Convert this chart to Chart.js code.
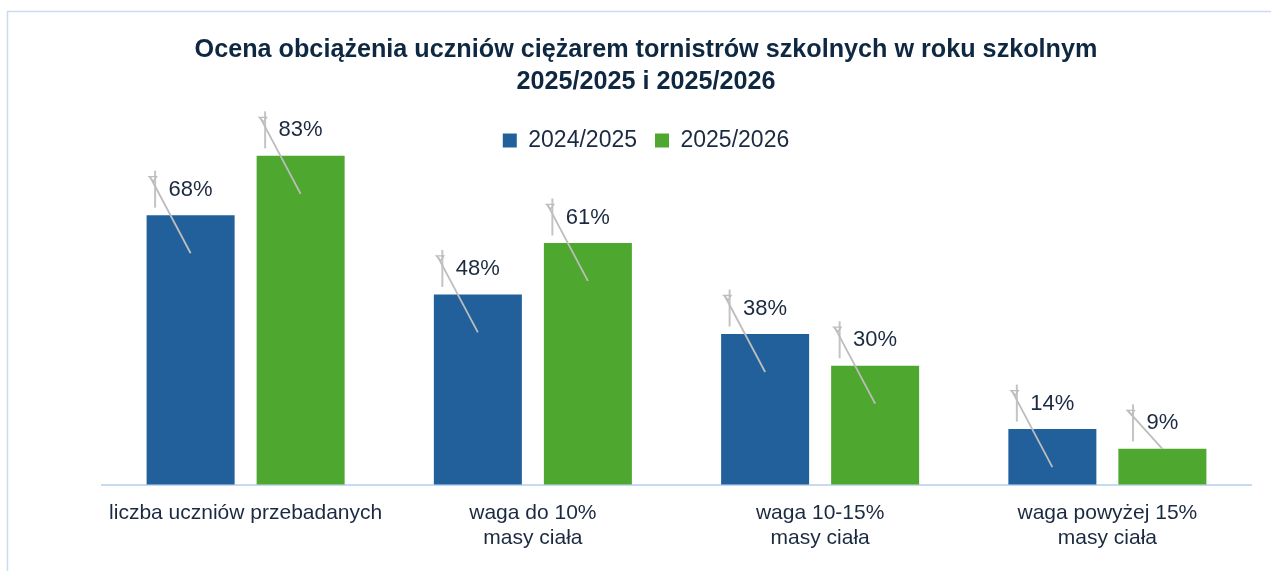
<!DOCTYPE html>
<html>
<head>
<meta charset="utf-8">
<script src="https://cdn.jsdelivr.net/npm/chart.js@4.4.1/dist/chart.umd.min.js"></script>
<style>
  html, body { margin: 0; padding: 0; background: #ffffff; }
  #wrap { width: 1271px; height: 571px; position: relative; }
</style>
</head>
<body>
<div id="wrap"><canvas id="c" width="1271" height="571"></canvas></div>
<script>
// ---- data ----
const titleLines = ['Ocena obciążenia uczniów ciężarem tornistrów szkolnych w roku szkolnym', '2025/2025 i 2025/2026'];
const categories = [
  'liczba uczniów przebadanych',
  ['waga do 10%', 'masy ciała'],
  ['waga 10-15%', 'masy ciała'],
  ['waga powyżej 15%', 'masy ciała']
];
const seriesNames = ['2024/2025', '2025/2026'];
const values2425 = [68, 48, 38, 14];
const values2526 = [83, 61, 30, 9];

// ---- styling ----
const BLUE = '#21609b';
const GREEN = '#4ea72e';
const TEXT = '#1b2a40';
const TITLE = '#0e2841';
const PX_PER_UNIT = 3.96;
const SANS = '"Liberation Sans", Arial, sans-serif';

const framePlugin = {
  id: 'frame',
  beforeDraw(chart) {
    const ctx = chart.ctx;
    ctx.save();
    ctx.fillStyle = '#ffffff';
    ctx.fillRect(0, 0, chart.width, chart.height);
    ctx.strokeStyle = '#c9dcf2';
    ctx.lineWidth = 1.5;
    ctx.beginPath();
    ctx.moveTo(7.5, chart.height + 5);
    ctx.lineTo(7.5, 11.5);
    ctx.lineTo(chart.width + 5, 11.5);
    ctx.stroke();
    ctx.restore();
  }
};

const labelPlugin = {
  id: 'barLabels',
  afterDatasetsDraw(chart) {
    const ctx = chart.ctx;
    ctx.save();
    ctx.font = '22px ' + SANS;
    chart.data.datasets.forEach((ds, di) => {
      const meta = chart.getDatasetMeta(di);
      meta.data.forEach((bar, i) => {
        const txt = ds.data[i] + '%';
        const w = ctx.measureText(txt).width;
        const cx = bar.x;
        const cy = bar.y - 25.5;
        const left = cx - w / 2;
        const h = bar.base - bar.y;
        // leader-line remnants (grey)
        ctx.strokeStyle = '#c4c4c4';
        ctx.lineWidth = 2;
        ctx.beginPath();
        ctx.moveTo(left - 13.5, cy - 19);
        ctx.lineTo(left - 13.5, cy + 18);
        ctx.stroke();
        ctx.strokeStyle = '#bdbdbd';
        ctx.lineWidth = 1.8;
        ctx.beginPath();
        ctx.moveTo(left - 18, cy - 12);
        ctx.lineTo(cx, h > 45 ? bar.y + 38 : bar.y);
        ctx.stroke();
        ctx.lineWidth = 1.3;
        ctx.beginPath();
        ctx.moveTo(left - 19.5, cy - 13);
        ctx.lineTo(left - 12, cy - 13);
        ctx.lineTo(left - 15, cy - 8.5);
        ctx.closePath();
        ctx.stroke();
        // value text
        ctx.fillStyle = TEXT;
        ctx.textAlign = 'center';
        ctx.textBaseline = 'middle';
        ctx.fillText(txt, cx, cy);
      });
    });
    ctx.restore();
  }
};

const chart = new Chart(document.getElementById('c'), {
  type: 'bar',
  data: {
    labels: categories,
    datasets: [
      { label: seriesNames[0], data: values2425, backgroundColor: BLUE, borderWidth: 0, clip: false },
      { label: seriesNames[1], data: values2526, backgroundColor: GREEN, borderWidth: 0, clip: false }
    ]
  },
  options: {
    responsive: false,
    animation: false,
    events: [],
    layout: { padding: { left: 41, right: 20, top: 0, bottom: 0 } },
    datasets: { bar: { categoryPercentage: 0.766, barPercentage: 0.8 } },
    plugins: {
      title: {
        display: true,
        text: titleLines,
        color: TITLE,
        font: { family: SANS, size: 25.2, weight: 'bold', lineHeight: 32 / 25.2 },
        padding: { top: 34, bottom: 13 }
      },
      legend: {
        display: true,
        position: 'top',
        labels: {
          color: TEXT,
          font: { family: SANS, size: 23 },
          boxWidth: 14,
          boxHeight: 14,
          padding: 18
        }
      },
      tooltip: { enabled: false }
    },
    scales: {
      x: {
        grid: { display: false, drawTicks: false },
        border: { display: true, color: '#c6daf0', width: 2 },
        ticks: { color: TEXT, font: { family: SANS, size: 21, lineHeight: 25 / 21 }, padding: 16, maxRotation: 0, autoSkip: false },
        afterFit(s) { s.height = 571 - 484.5; }
      },
      y: {
        display: true,
        min: 0,
        max: 90,
        grid: { display: false, drawTicks: false },
        border: { display: false },
        ticks: { display: false },
        afterFit(s) { s.width = 61; }
      }
    }
  },
  plugins: [framePlugin, labelPlugin]
});
const ca = chart.chartArea;
chart.options.scales.y.max = (ca.bottom - ca.top) / PX_PER_UNIT;
chart.update();
</script>
</body>
</html>
